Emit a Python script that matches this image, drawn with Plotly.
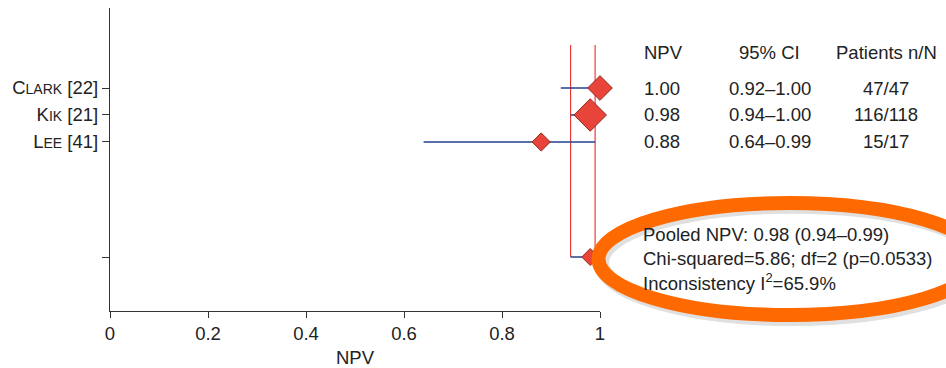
import plotly.graph_objects as go

# ---- data ----
studies = ["Clark [22]", "Kik [21]", "Lee [41]"]
study_labels = ["C<span style='font-size:14px'>LARK</span> [22]",
                "K<span style='font-size:14px'>IK</span> [21]",
                "L<span style='font-size:14px'>EE</span> [41]"]
npv = [1.00, 0.98, 0.88]
ci_low = [0.92, 0.94, 0.64]
ci_high = [1.00, 1.00, 0.99]
patients = ["47/47", "116/118", "15/17"]
npv_text = ["1.00", "0.98", "0.88"]
ci_text = ["0.92–1.00", "0.94–1.00", "0.64–0.99"]
pooled_npv = 0.98
pooled_low = 0.94
pooled_high = 0.99
stats_lines = ["Pooled NPV: 0.98 (0.94–0.99)",
               "Chi-squared=5.86; df=2 (p=0.0533)",
               "Inconsistency I<sup>2</sup>=65.9%"]
x_ticks = [0, 0.2, 0.4, 0.6, 0.8, 1]
x_tick_labels = ["0", "0.2", "0.4", "0.6", "0.8", "1"]

# ---- layout constants ----
row_pos = [1, 2, 3]
pooled_pos = 7.26
marker_sizes = [19, 25, 14]
pooled_size = 13
FONT = "Liberation Sans, Arial, Helvetica, sans-serif"
TXT = "#222222"
RED = "#e8443a"
BLUE = "#23408e"
FS = 18.5

fig = go.Figure()

# pooled CI vertical red lines
for xv in (pooled_low, pooled_high):
    fig.add_trace(go.Scatter(x=[xv, xv], y=[-0.59, pooled_pos], mode="lines",
                             line=dict(color="#ee2a2a", width=1.1),
                             hoverinfo="skip", showlegend=False, cliponaxis=False))

# study CI lines
for lo, hi, y in zip(ci_low, ci_high, row_pos):
    fig.add_trace(go.Scatter(x=[lo, hi], y=[y, y], mode="lines",
                             line=dict(color=BLUE, width=1.5),
                             hoverinfo="skip", showlegend=False, cliponaxis=False))
# pooled CI line
fig.add_trace(go.Scatter(x=[pooled_low, pooled_high], y=[pooled_pos, pooled_pos], mode="lines",
                         line=dict(color=BLUE, width=1.5),
                         hoverinfo="skip", showlegend=False, cliponaxis=False))

# study diamonds
fig.add_trace(go.Scatter(x=npv, y=row_pos, mode="markers",
                         marker=dict(symbol="diamond", size=marker_sizes, color=RED, opacity=1,
                                     line=dict(color="#8e2a1e", width=1)),
                         showlegend=False, cliponaxis=False))
# pooled diamond
fig.add_trace(go.Scatter(x=[pooled_npv], y=[pooled_pos], mode="markers",
                         marker=dict(symbol="diamond", size=pooled_size, color=RED, opacity=1,
                                     line=dict(color="#8e2a1e", width=1)),
                         showlegend=False, cliponaxis=False))

ann = []
# table headers
hdr_y = -0.30
ann.append(dict(x=1.0857, y=hdr_y, text="NPV", xanchor="left"))
ann.append(dict(x=1.3469, y=hdr_y, text="95% CI", xanchor="center"))
ann.append(dict(x=1.5837, y=hdr_y, text="Patients n/N", xanchor="center"))
for y, a, b, c in zip(row_pos, npv_text, ci_text, patients):
    ann.append(dict(x=1.0857, y=y, text=a, xanchor="left"))
    ann.append(dict(x=1.3469, y=y, text=b, xanchor="center"))
    ann.append(dict(x=1.5837, y=y, text=c, xanchor="center"))
for y, t in zip([6.44, 7.30, 8.19], stats_lines):
    ann.append(dict(x=1.0837, y=y, text=t, xanchor="left"))
for a in ann:
    a.update(xref="paper", yref="y", yanchor="middle", showarrow=False,
             font=dict(family=FONT, size=FS, color=TXT))

fig.update_layout(
    width=946, height=368,
    margin=dict(l=110, r=346, t=8, b=57, autoexpand=False),
    paper_bgcolor="white", plot_bgcolor="white",
    annotations=ann,
    font=dict(family=FONT, size=FS, color=TXT),
    xaxis=dict(range=[0, 1], tickvals=x_ticks, ticktext=x_tick_labels, automargin=False,
               showgrid=False, zeroline=False, showline=True, linecolor="#333333",
               linewidth=1.3, ticks="outside", ticklen=6, tickcolor="#333333",
               title=dict(text="NPV", font=dict(family=FONT, size=FS, color=TXT), standoff=12),
               tickfont=dict(family=FONT, size=FS, color=TXT)),
    yaxis=dict(range=[9.26, -1.963], tickvals=row_pos + [pooled_pos], automargin=False,
               ticktext=study_labels + [""],
               showgrid=False, zeroline=False, showline=True, linecolor="#333333",
               linewidth=1.3, ticks="outside", ticklen=7, tickcolor="#333333",
               tickfont=dict(family=FONT, size=FS, color=TXT)),
    shapes=[
        dict(type="circle", xref="paper", yref="paper",
             x0=1.003, x1=1.7815, y0=-0.025, y1=0.346,
             line=dict(color="rgba(0,0,0,0.12)", width=15), layer="above"),
        dict(type="circle", xref="paper", yref="paper",
             x0=0.997, x1=1.7755, y0=-0.0132, y1=0.3564,
             line=dict(color="#ff6a00", width=14), layer="above"),
    ],
)

fig.write_html("out.html", config={"displayModeBar": False},
               post_script="document.body.style.margin='0';document.body.style.overflow='hidden';")
